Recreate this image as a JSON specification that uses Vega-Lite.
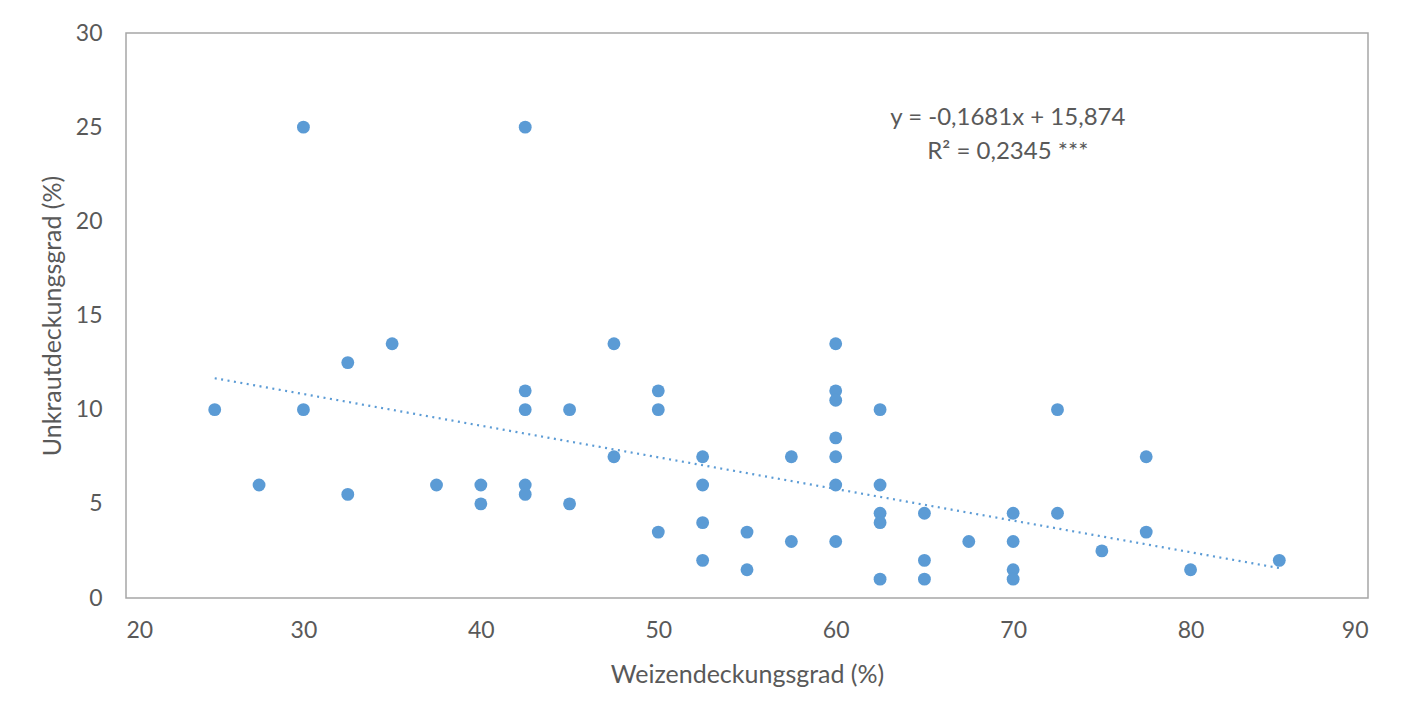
{
  "$schema": "https://vega.github.io/schema/vega-lite/v6.json",
  "width": 1242,
  "height": 565,
  "autosize": {"type": "none"},
  "padding": {"left": 126, "top": 33, "right": 46, "bottom": 115},
  "background": "white",
  "config": {
    "view": {"stroke": "#a6a6a6", "strokeWidth": 1.5},
    "font": "Lato",
    "axis": {
      "grid": false,
      "ticks": false,
      "domain": false,
      "labelFont": "Lato",
      "titleFont": "Lato",
      "labelFontSize": 23,
      "titleFontSize": 25,
      "labelColor": "#595959",
      "titleColor": "#595959",
      "titleFontWeight": "normal"
    }
  },
  "datasets": {
    "points": [
      {"w": 25, "u": 10}, {"w": 27.5, "u": 6}, {"w": 30, "u": 25}, {"w": 30, "u": 10},
      {"w": 32.5, "u": 12.5}, {"w": 32.5, "u": 5.5}, {"w": 35, "u": 13.5}, {"w": 37.5, "u": 6},
      {"w": 40, "u": 6}, {"w": 40, "u": 5}, {"w": 42.5, "u": 25}, {"w": 42.5, "u": 11},
      {"w": 42.5, "u": 10}, {"w": 42.5, "u": 6}, {"w": 42.5, "u": 5.5}, {"w": 45, "u": 10},
      {"w": 45, "u": 5}, {"w": 47.5, "u": 13.5}, {"w": 47.5, "u": 7.5}, {"w": 50, "u": 11},
      {"w": 50, "u": 10}, {"w": 50, "u": 3.5}, {"w": 52.5, "u": 7.5}, {"w": 52.5, "u": 6},
      {"w": 52.5, "u": 4}, {"w": 52.5, "u": 2}, {"w": 55, "u": 3.5}, {"w": 55, "u": 1.5},
      {"w": 57.5, "u": 7.5}, {"w": 57.5, "u": 3}, {"w": 60, "u": 13.5}, {"w": 60, "u": 11},
      {"w": 60, "u": 10.5}, {"w": 60, "u": 8.5}, {"w": 60, "u": 7.5}, {"w": 60, "u": 6},
      {"w": 60, "u": 3}, {"w": 62.5, "u": 10}, {"w": 62.5, "u": 6}, {"w": 62.5, "u": 4.5},
      {"w": 62.5, "u": 4}, {"w": 62.5, "u": 1}, {"w": 65, "u": 4.5}, {"w": 65, "u": 2},
      {"w": 65, "u": 1}, {"w": 67.5, "u": 3}, {"w": 70, "u": 4.5}, {"w": 70, "u": 3},
      {"w": 70, "u": 1.5}, {"w": 70, "u": 1}, {"w": 72.5, "u": 10}, {"w": 72.5, "u": 4.5},
      {"w": 75, "u": 2.5}, {"w": 77.5, "u": 7.5}, {"w": 77.5, "u": 3.5}, {"w": 80, "u": 1.5},
      {"w": 85, "u": 2}
    ],
    "trend": [
      {"w": 25, "u": 11.67},
      {"w": 85, "u": 1.59}
    ],
    "notes": [
      {"w": 69.7, "u": 25.5, "label": "y = -0,1681x + 15,874"},
      {"w": 69.7, "u": 23.7, "label": "R² = 0,2345 ***"}
    ]
  },
  "layer": [
    {
      "data": {"name": "trend"},
      "mark": {"type": "line", "color": "#5b9bd5", "strokeWidth": 2.2, "strokeDash": [2, 4.5]},
      "encoding": {
        "x": {"field": "w", "type": "quantitative"},
        "y": {"field": "u", "type": "quantitative"}
      }
    },
    {
      "data": {"name": "points"},
      "mark": {"type": "circle", "size": 165, "color": "#5b9bd5", "opacity": 1},
      "encoding": {
        "x": {
          "field": "w", "type": "quantitative",
          "scale": {"domain": [20, 90], "nice": false, "zero": false},
          "axis": {"values": [20, 30, 40, 50, 60, 70, 80, 90], "labelPadding": 21, "title": "Weizendeckungsgrad (%)", "titlePadding": 20}
        },
        "y": {
          "field": "u", "type": "quantitative",
          "scale": {"domain": [0, 30], "nice": false},
          "axis": {"values": [0, 5, 10, 15, 20, 25, 30], "labelPadding": 24, "title": "Unkrautdeckungsgrad (%)", "titlePadding": 10}
        }
      }
    },
    {
      "data": {"name": "notes"},
      "mark": {"type": "text", "fontSize": 24, "color": "#595959", "font": "Lato", "align": "center", "baseline": "middle"},
      "encoding": {
        "x": {"field": "w", "type": "quantitative"},
        "y": {"field": "u", "type": "quantitative"},
        "text": {"field": "label"}
      }
    }
  ]
}
